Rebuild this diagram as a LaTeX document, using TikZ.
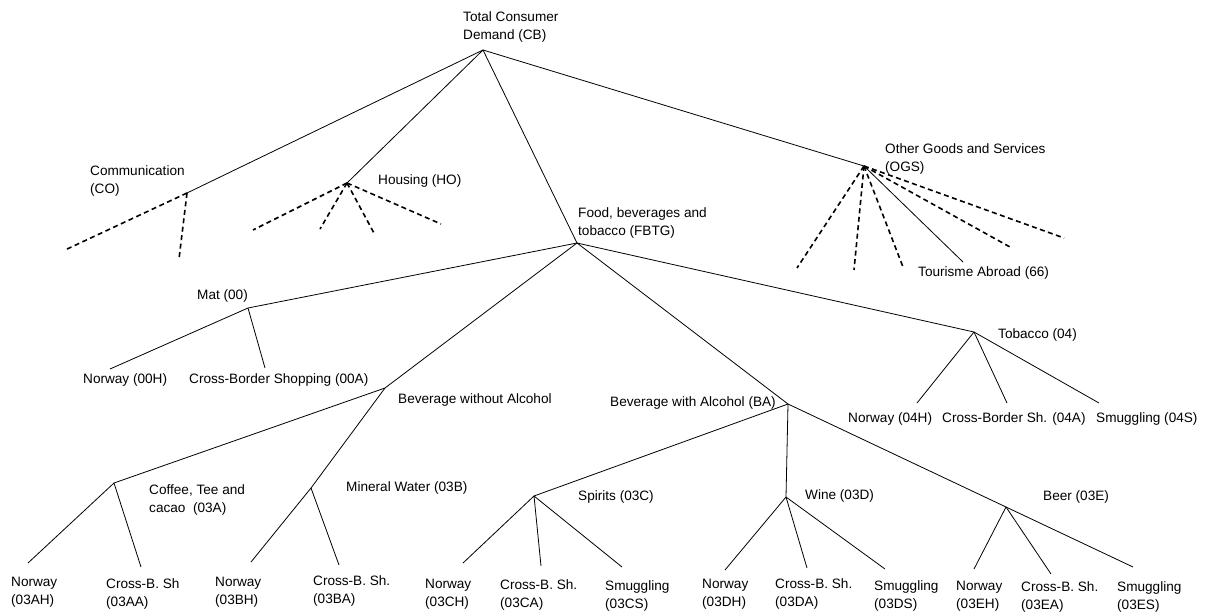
\documentclass[tikz,border=0pt]{standalone}
\usepackage{fontspec}
\setmainfont{Liberation Sans}
\begin{document}
\begin{tikzpicture}[x=1pt, y=-1pt, font=\fontsize{13.6}{18}\selectfont,
		lbl/.style={anchor=west, inner sep=0pt, align=left},
		branch/.style={line width=0.8pt},
		other/.style={line width=1.6pt, dash pattern=on 5pt off 3.5pt}]
	\useasboundingbox (0,0) rectangle (1206,614);
	% junctions
	\coordinate (cb) at (483,50);
	\coordinate (co) at (187,193);
	\coordinate (ho) at (347,183);
	\coordinate (fbtg) at (577,243);
	\coordinate (ogs) at (864,166);
	\coordinate (mat) at (248,308);
	\coordinate (bwoa) at (385,388);
	\coordinate (ba) at (788,404);
	\coordinate (tob) at (974,332);
	\coordinate (cof) at (114,483);
	\coordinate (min) at (311,488);
	\coordinate (spi) at (534,496);
	\coordinate (win) at (786,497);
	\coordinate (bee) at (1006,507);
	% labels of the groups
	\node[lbl] (cbL) at (463,26.5) {Total Consumer\\Demand (CB)};
	\node[lbl] (coL) at (90,181) {Communication\\(CO)};
	\node[lbl] (hoL) at (378,181) {Housing (HO)};
	\node[lbl] (fbtgL) at (578,222.5) {Food, beverages and\\tobacco (FBTG)};
	\node[lbl] (ogsL) at (885,159) {Other Goods and Services\\(OGS)};
	\node[lbl] (touL) at (918,273) {Tourisme Abroad (66)};
	\node[lbl] (matL) at (197,296) {Mat (00)};
	\node[lbl] (bwoaL) at (398,400) {Beverage without Alcohol};
	\node[lbl] (baL) at (610,403) {Beverage with Alcohol (BA)};
	\node[lbl] (tobL) at (998,335) {Tobacco (04)};
	\node[lbl] (cofL) at (149,500) {Coffee, Tee and\\cacao\ \ (03A)};
	\node[lbl] (minL) at (346,488) {Mineral Water (03B)};
	\node[lbl] (spiL) at (578,497) {Spirits (03C)};
	\node[lbl] (winL) at (805,496) {Wine (03D)};
	\node[lbl] (beeL) at (1043,497) {Beer (03E)};
	% labels of the leaves
	\foreach \n/\x/\y/\t in {matH/83/380/{Norway (00H)},
			matA/189/380/{Cross-Border Shopping (00A)},
			tobH/848/419/{Norway (04H)}, tobA/942/419/{Cross-Border Sh. (04A)},
			tobS/1096/419/{Smuggling (04S)}}
		\node[lbl] (\n L) at (\x,\y) {\t};
	\foreach \n/\x/\y/\t in {cofH/11/592/{Norway\\(03AH)},
			cofA/106/594/{Cross-B. Sh\\(03AA)},
			minH/215/592/{Norway\\(03BH)}, minA/313/591/{Cross-B. Sh.\\(03BA)},
			spiH/425/594/{Norway\\(03CH)}, spiA/500/595/{Cross-B. Sh.\\(03CA)},
			spiS/605/596/{Smuggling\\(03CS)},
			winH/702/594/{Norway\\(03DH)}, winA/775/594/{Cross-B. Sh.\\(03DA)},
			winS/874/596/{Smuggling\\(03DS)},
			beeH/956/596/{Norway\\(03EH)}, beeA/1021/597/{Cross-B. Sh.\\(03EA)},
			beeS/1117/597/{Smuggling\\(03ES)}}
		\node[lbl] (\n L) at (\x,\y) {\t};
	% tree
	\foreach \j in {co,ho,fbtg,ogs}
		\draw[branch] (cb) -- (\j);
	\foreach \j in {mat,bwoa,ba,tob}
		\draw[branch] (fbtg) -- (\j);
	\foreach \j in {cof,min}
		\draw[branch] (bwoa) -- (\j);
	\foreach \j in {spi,win,bee}
		\draw[branch] (ba) -- (\j);
	% solid ends
	\foreach \p/\c/\x/\y in {ogs/tou/963/262,
			mat/matH/110/369, mat/matA/265/368,
			tob/tobH/917/403, tob/tobA/1007/403, tob/tobS/1099/403,
			cof/cofH/28/563, cof/cofA/141/567,
			min/minH/251/562, min/minA/339/565,
			spi/spiH/463/563, spi/spiA/541/566, spi/spiS/622/567,
			win/winH/725/570, win/winA/807/568, win/winS/885/569,
			bee/beeH/974/569, bee/beeA/1051/574, bee/beeS/1133/567}
		{
			\coordinate (\c) at (\x,\y);
			\draw[branch] (\p) -- (\c);
		}
	% not split further
	\foreach \p/\c/\x/\y in {co/co1/65/250, co/co2/179/259,
			ho/ho1/253/230, ho/ho2/320/229, ho/ho3/375/235, ho/ho4/441/224,
			ogs/ogs1/797/268, ogs/ogs2/854/270, ogs/ogs3/903/267,
			ogs/ogs4/1010/247, ogs/ogs5/1064/238}
		{
			\coordinate (\c) at (\x,\y);
			\draw[other] (\p) -- (\c);
		}
\end{tikzpicture}
\end{document}
